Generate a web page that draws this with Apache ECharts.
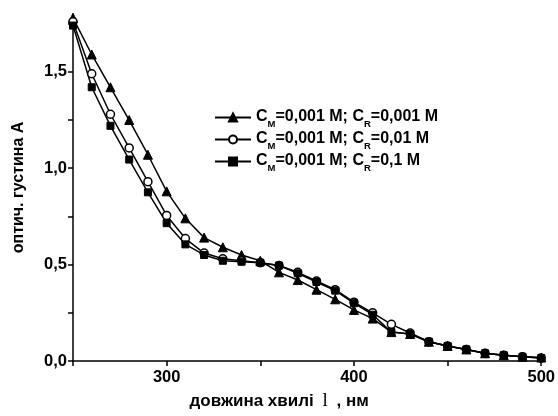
<!DOCTYPE html>
<html>
<head>
<meta charset="utf-8">
<script src="https://cdn.jsdelivr.net/npm/echarts@6/dist/echarts.min.js"></script>
<style>
html,body{margin:0;padding:0;background:#fff;}
#chart{width:558px;height:416px;}
</style>
</head>
<body>
<div id="chart"></div>
<script>
var wavelengths = [250,260,270,280,290,300,310,320,330,340,350,360,370,380,390,400,410,420,430,440,450,460,470,480,490,500];
var seriesTri = [1.78,1.59,1.42,1.25,1.07,0.88,0.74,0.64,0.59,0.55,0.52,0.46,0.42,0.37,0.32,0.265,0.22,0.15,0.14,0.10,0.078,0.06,0.04,0.03,0.022,0.018];
var seriesCirc = [1.76,1.49,1.28,1.105,0.93,0.755,0.635,0.56,0.53,0.52,0.51,0.495,0.46,0.415,0.37,0.305,0.25,0.19,0.145,0.10,0.078,0.06,0.04,0.03,0.022,0.015];
var seriesSq = [1.74,1.42,1.22,1.045,0.875,0.715,0.605,0.55,0.52,0.515,0.51,0.495,0.455,0.41,0.365,0.30,0.24,0.15,0.14,0.10,0.078,0.06,0.04,0.03,0.022,0.015];
var names = ['C_M=0,001 M; C_R=0,001 M','C_M=0,001 M; C_R=0,01 M','C_M=0,001 M; C_R=0,1 M'];
var legendRich = {
  0:'{b|C}{s|M}{b|=0,001 M; C}{s|R}{b|=0,001 M}',
  1:'{b|C}{s|M}{b|=0,001 M; C}{s|R}{b|=0,01 M}',
  2:'{b|C}{s|M}{b|=0,001 M; C}{s|R}{b|=0,1 M}'
};
var yName = 'оптич. густина A';
var xName = 'довжина хвилі {l|l} , нм';

function pairs(vals){ return wavelengths.map(function(w,i){return [w, vals[i]];}); }

var chart = echarts.init(document.getElementById('chart'), null, {renderer:'canvas'});
var font = 'Liberation Sans, Arial, sans-serif';
var baseSeries = {
  type:'line', smooth:false,
  lineStyle:{color:'#000', width:1.5},
  z:2
};
chart.setOption({
  animation:false,
  backgroundColor:'#fff',
  grid:{left:73, right:16, top:14, bottom:51.5, containLabel:false},
  legend:{
    orient:'vertical', left:209, top:104, itemWidth:36, itemHeight:10, itemGap:2,
    data:names,
    formatter:function(n){ return legendRich[names.indexOf(n)]; },
    textStyle:{
      rich:{
        b:{fontFamily:font, fontWeight:'bold', fontSize:16, color:'#000', verticalAlign:'bottom', lineHeight:15},
        s:{fontFamily:font, fontWeight:'bold', fontSize:9.5, color:'#000', verticalAlign:'bottom', lineHeight:11, padding:[0,0,-4,0]}
      }
    }
  },
  xAxis:{
    type:'value', min:250, max:500, interval:50,
    name:xName, nameLocation:'middle', nameGap:31,
    nameTextStyle:{fontFamily:font, fontWeight:'bold', fontSize:17, color:'#000', padding:[0,56,0,0],
      rich:{l:{fontFamily:'Liberation Serif, Times New Roman, serif', fontSize:19, fontWeight:'normal', color:'#000', padding:[0,4,0,4]}}},
    axisLine:{onZero:false, lineStyle:{color:'#000', width:1.5}},
    axisTick:{show:true, inside:false, length:5, lineStyle:{color:'#000', width:1.5}},
    splitLine:{show:false},
    axisLabel:{fontFamily:font, fontWeight:'bold', fontSize:16.5, color:'#000', margin:8,
      formatter:function(v){ return (v % 100 === 0) ? String(v) : ''; }}
  },
  yAxis:{
    type:'value', min:0, max:1.8, interval:0.25,
    name:yName, nameLocation:'middle', nameGap:46, nameRotate:90,
    nameTextStyle:{fontFamily:font, fontWeight:'bold', fontSize:16, color:'#000'},
    axisLine:{show:true, onZero:false, lineStyle:{color:'#000', width:1.5}},
    axisTick:{show:true, inside:false, length:5, lineStyle:{color:'#000', width:1.5}},
    splitLine:{show:false},
    axisLabel:{fontFamily:font, fontWeight:'bold', fontSize:16.5, color:'#000', margin:6, showMaxLabel:false,
      formatter:function(v){ return (Math.abs(v*2 - Math.round(v*2))<1e-9) ? v.toFixed(1).replace('.', ',') : ''; }}
  },
  series:[
    Object.assign({}, baseSeries, {name:names[0], data:pairs(seriesTri), symbol:'triangle', symbolSize:9,
      itemStyle:{color:'#000', borderColor:'#000', borderWidth:1}}),
    Object.assign({}, baseSeries, {name:names[1], data:pairs(seriesCirc), symbol:'circle', symbolSize:8,
      itemStyle:{color:'#fff', borderColor:'#000', borderWidth:1.5}}),
    Object.assign({}, baseSeries, {name:names[2], data:pairs(seriesSq), symbol:'rect', symbolSize:7,
      itemStyle:{color:'#000', borderColor:'#000', borderWidth:1}})
  ]
});
</script>
</body>
</html>
